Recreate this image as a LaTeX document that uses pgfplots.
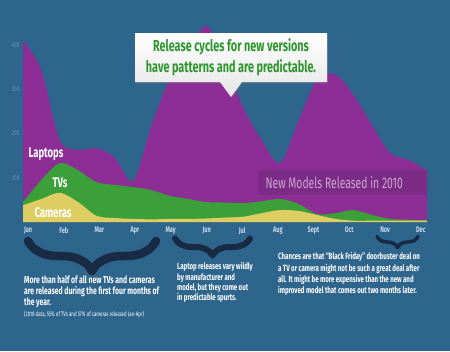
\documentclass[border=0pt]{standalone}
\usepackage{pgfplots}
\pgfplotsset{compat=1.18}
\usepackage{fontspec}
\setmainfont[FakeStretch=0.68]{Fira Sans}
\usetikzlibrary{decorations.pathreplacing,shadows}
\definecolor{bgblue}{RGB}{46,101,141}
\definecolor{lappurple}{RGB}{141,45,150}
\definecolor{tvgreen}{RGB}{60,160,58}
\definecolor{camyellow}{RGB}{222,205,96}
\definecolor{bracecol}{RGB}{24,42,68}
\definecolor{ytickcol}{RGB}{112,150,186}
\definecolor{xtickcol}{RGB}{200,216,232}
\definecolor{bandcol}{RGB}{122,44,132}
\definecolor{bandtext}{RGB}{205,165,210}
\definecolor{callgreen}{RGB}{46,150,46}
\pgfplotstableread{
m laptops tvs cameras
0    411 45 38
0.5  343 95 52
1    185 133 66
1.5  163 117 45
2    167 90 14
2.5  145 84 9
3    93  79 7
3.5  219 72 6
4    325 59 7
4.5  389 52 7
5    443 45 8
5.5  362 44 10
6    258 43 12
6.5  185 47 20
7    133 52 27
7.5  228 41 25
8    322 18 16
8.5  334 20 7
9    287 27 3
9.5  219 16 3
10   156 7 3
10.5 140 5 3
11   117 4 3
}\releases
\begin{document}
\begin{tikzpicture}[x=1bp,y=1bp]
\fill[bgblue] (0,0) rectangle (450,-351);
\useasboundingbox (0,0) rectangle (450,-351);
\begin{axis}[at={(23bp,-222bp)}, anchor=south west, scale only axis,
  width=404bp, height=199.1bp, xmin=0, xmax=11, ymin=0, ymax=450,
  axis line style={draw=none}, major tick length=0pt,
  ytick={100,200,300,400},
  xtick={0.14,1.11,2.08,3.05,4.02,5.00,5.97,6.94,7.91,8.88,9.86,10.83},
  xticklabels={Jan,Feb,Mar,Apr,May,Jun,Jul,Aug,Sept,Oct,Nov,Dec},
  /pgf/number format/assume math mode=true,
  yticklabel style={font=\fontsize{7}{8}\selectfont, text=ytickcol},
  xticklabel style={font=\bfseries\fontsize{8.2}{9}\selectfont, text=xtickcol, yshift=-1.5bp},
  ]
\addplot[fill=lappurple, draw=none, smooth, tension=0.5] table[x=m,y=laptops]{\releases} \closedcycle;
\addplot[fill=tvgreen, draw=none, smooth, tension=0.5] table[x=m,y=tvs]{\releases} \closedcycle;
\addplot[fill=camyellow, draw=none, smooth, tension=0.5] table[x=m,y=cameras]{\releases} \closedcycle;
\end{axis}
% band
\fill[bandcol, opacity=0.85] (258,-170) rectangle (427,-195);
\node[anchor=west, text=bandtext, font=\fontsize{15.3}{16}\selectfont] at (262,-182.5) {New Models Released in 2010};
% series labels
\node[text=white, font=\bfseries\fontsize{14}{15}\selectfont] at (46,-154) {Laptops};
\node[text=white, font=\bfseries\fontsize{14}{15}\selectfont] at (60,-182.5) {TVs};
\node[text=white, font=\bfseries\fontsize{14}{15}\selectfont] at (53,-213) {Cameras};
% callout
\path[top color=white, bottom color=black!10, drop shadow={opacity=0.35, shadow xshift=1bp, shadow yshift=-1.5bp}]
  (135,-33) -- (327,-33) -- (327,-82) -- (242,-82) -- (231,-97) -- (220,-82) -- (135,-82) -- cycle;
\node[text=callgreen, align=center, font=\bfseries\fontsize{16}{20.5}\selectfont] at (231,-57.5)
  {Release cycles for new versions\\have patterns and are predictable.};
% braces
\draw[bracecol, line width=8.5bp, line cap=round, line join=round, decorate, decoration={brace, amplitude=30bp}] (156,-241) -- (28,-241);
\draw[bracecol, line width=6bp, line cap=round, line join=round, decorate, decoration={brace, amplitude=17bp}] (250,-238.5) -- (175,-238.5);
\draw[bracecol, line width=3.5bp, line cap=round, line join=round, decorate, decoration={brace, amplitude=11bp}] (418,-236.5) -- (377,-236.5);
% texts
\node[anchor=north west, inner sep=0pt, text=white, align=left, font=\bfseries\fontsize{10.1}{11}\selectfont] at (24,-276)
  {More than half of all new TVs and cameras\\are released during the first four months of\\the year.};
\node[anchor=north west, inner sep=0pt, text=white, align=left, font=\fontsize{6.5}{7}\selectfont] at (24,-311)
  {(2010 data, 55\% of TVs and 57\% of cameras released Jan-Apr)};
\node[anchor=north west, inner sep=0pt, text=white, align=left, font=\bfseries\fontsize{9}{10.3}\selectfont] at (177,-262.5)
  {Laptop releases vary wildly\\by manufacturer and\\model, but they come out\\in predictable spurts.};
\node[anchor=north west, inner sep=0pt, text=white, align=left, font=\bfseries\fontsize{9}{11.3}\selectfont] at (278,-252.5)
  {Chances are that ``Black Friday'' doorbuster deal on\\a TV or camera might not be such a great deal after\\all. It might be more expensive than the new and\\improved model that comes out two months later.};
\end{tikzpicture}
\end{document}
